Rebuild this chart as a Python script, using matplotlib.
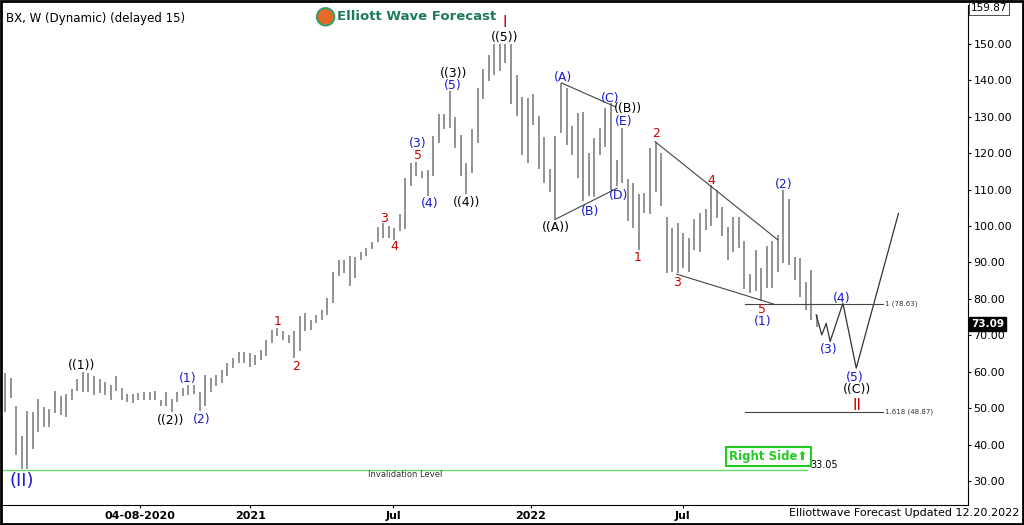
import matplotlib
matplotlib.use("Agg")
import matplotlib.pyplot as plt
from matplotlib.patches import FancyBboxPatch, Ellipse

highs = [59.6,58.2,50.6,42.4,49.2,49.0,52.4,50.2,49.7,54.8,53.3,53.9,55.2,57.9,60.0,59.6,58.8,57.9,57.3,56.4,
         58.8,55.5,53.9,53.9,54.1,54.5,54.5,54.8,52.2,54.3,52.4,54.5,55.5,56.4,56.4,54.5,59.1,58.2,59.1,60.5,
         62.3,63.7,65.5,65.5,
         65.1,64.6,66.0,68.8,71.5,72.0,71.1,70.1,71.1,75.4,76.1,74.3,75.6,77.0,80.2,87.3,90.6,90.8,91.7,91.5,
         92.8,94.0,95.6,99.8,100.9,100.0,99.5,103.2,113.3,117.4,117.6,115.2,115.4,124.7,130.9,130.9,137.1,129.9,124.9,117.4,
         126.6,138.0,143.2,147.1,149.9,149.9,149.9,149.9,141.6,
         135.4,135.1,136.3,130.1,124.4,115.8,124.6,139.3,137.9,127.5,131.0,131.2,120.0,124.1,126.8,132.3,133.7,118.0,126.8,112.8,
         111.9,108.7,109.1,121.5,123.0,120.0,102.6,99.5,100.9,98.1,96.7,101.8,103.5,104.8,111.2,109.8,105.3,99.8,102.6,102.6,
         95.8,86.7,93.5,88.5,94.4,95.8,97.6,109.9,107.4,91.6,91.2,84.6,87.9,75.6]
lows = [49.0,52.7,37.1,33.2,33.2,38.9,43.5,44.7,44.9,48.6,48.1,47.6,52.2,54.8,54.3,54.4,53.6,54.1,53.6,52.1,
        54.8,52.2,51.8,51.5,52.1,52.2,52.1,52.1,50.6,50.6,49.0,51.8,53.3,53.6,53.9,49.3,50.6,54.5,56.1,57.0,
        58.7,60.9,62.3,62.5,
        61.4,61.8,63.3,64.2,67.9,69.7,68.8,67.9,63.8,65.6,71.1,71.5,73.4,74.3,75.6,78.8,86.2,87.2,83.5,85.7,
        90.8,91.7,93.6,95.6,96.8,96.8,96.3,98.6,99.1,111.0,113.8,113.1,108.3,113.8,122.9,126.6,127.0,121.5,113.8,108.7,
        114.5,122.7,135.0,139.8,141.6,142.5,144.8,133.4,130.2,
        119.5,117.2,127.8,115.8,111.8,109.4,101.8,125.6,122.3,119.5,113.2,106.8,108.3,108.1,119.5,121.8,110.0,110.9,111.9,101.3,
        99.5,93.5,103.6,103.2,109.4,105.5,87.1,87.5,87.1,88.5,87.5,93.5,93.0,98.9,100.0,102.2,97.2,90.8,93.0,93.9,
        82.6,81.6,82.1,79.4,83.0,83.0,87.5,89.9,89.3,85.2,80.5,77.0,74.2,72.3]

proj_x = [145.9, 146.9, 147.7, 148.4, 150.7, 153.1, 160.7]
proj_y = [75.6, 70.1, 73.3, 68.3, 78.8, 61.0, 103.5]

tick_pos = [24.3, 44.1, 69.8, 94.6, 121.9]
tick_lab = ["04-08-2020", "2021", "Jul", "2022", "Jul"]
yticks = [30, 40, 50, 60, 70, 80, 90, 100, 110, 120, 130, 140, 150]

labels = [("I",89.9,156.0,"#d00000",11),("((5))",89.9,151.9,"black",9),("((3))",80.6,142.0,"black",9),
          ("(5)",80.6,138.7,"#1a1ad0",9),("(3)",74.3,122.8,"#1a1ad0",9),("5",74.3,119.3,"#d00000",9),
          ("(4)",76.3,106.1,"#1a1ad0",9),("((4))",83.1,106.6,"black",9),("3",68.2,102.2,"#d00000",9),
          ("4",70.1,94.3,"#d00000",9),("1",49.1,73.9,"#d00000",9),("2",52.3,61.3,"#d00000",9),
          ("((1))",13.8,61.6,"black",9),("((2))",29.7,46.7,"black",9),("(1)",32.9,58.0,"#1a1ad0",9),
          ("(2)",35.3,47.0,"#1a1ad0",9),("(II)",3.1,30.0,"#1a1ad0",13),("(A)",100.4,140.7,"#1a1ad0",9),
          ("(C)",108.8,134.9,"#1a1ad0",9),("((B))",112.1,132.4,"black",9),("(E)",111.2,128.6,"#1a1ad0",9),
          ("(D)",110.4,108.3,"#1a1ad0",9),("(B)",105.2,104.1,"#1a1ad0",9),("((A))",99.1,99.5,"black",9),
          ("2",117.1,125.3,"#d00000",9),("1",113.8,91.5,"#d00000",9),("4",127.0,112.4,"#d00000",9),
          ("3",120.9,84.6,"#d00000",9),("5",136.2,77.2,"#d00000",9),("(1)",136.2,73.9,"#1a1ad0",9),
          ("(2)",140.1,111.5,"#1a1ad0",9),("(4)",150.5,80.0,"#1a1ad0",9),("(3)",148.2,66.2,"#1a1ad0",9),
          ("(5)",152.9,58.3,"#1a1ad0",9),("((C))",153.2,55.0,"black",9),("II",153.2,50.6,"#d00000",11)]

fig = plt.figure(figsize=(10.24, 5.25), dpi=100)
ax = fig.add_axes([0.0, 20/525, 968/1024, 500/525])
x = list(range(len(highs)))
ax.vlines(x, lows, highs, color="#8a8a8a", lw=1.3)
ax.plot(proj_x, proj_y, color="#333333", lw=0.9)

lc = "#444444"
ax.plot([98.9, 110.1], [101.8, 110.4], color=lc, lw=0.8)
ax.plot([100.1, 109.7], [139.3, 132.8], color=lc, lw=0.8)
ax.plot([116.9, 139.0], [123.2, 96.2], color=lc, lw=0.8)
ax.plot([120.8, 138.2], [86.8, 78.6], color=lc, lw=0.8)
ax.plot([133.1, 157.9], [78.63, 78.63], color=lc, lw=0.8)
ax.plot([133.1, 157.9], [48.87, 48.87], color=lc, lw=0.8)
ax.text(158.3, 78.63, "1 (78.63)", fontsize=5, va="center", color="#333333")
ax.text(158.3, 48.87, "1.618 (48.87)", fontsize=5, va="center", color="#333333")
ax.plot([-1, 144.2], [33.05, 33.05], color="#66dd66", lw=1.0)
ax.text(72, 31.7, "Invalidation Level", fontsize=6, ha="center", va="center", color="#333333")
ax.text(144.8, 34.3, "33.05", fontsize=7, va="center", color="black")
ax.text(137.3, 36.8, "Right Side\u2b06", fontsize=8.5, fontweight="bold", color="#22cc22", ha="center", va="center",
        bbox=dict(boxstyle="square,pad=0.25", fc="white", ec="#22cc22", lw=1.5))

for t, lx, ly, c, fs in labels:
    ax.text(lx, ly, t, color=c, fontsize=fs, ha="center", va="center")

ax.set_xlim(-0.9, 173.2)
ax.set_ylim(23.4, 160.7)
ax.yaxis.tick_right()
ax.set_yticks(yticks)
ax.set_yticklabels([f"{v:.2f}" for v in yticks], fontsize=8)
ax.set_xticks(tick_pos)
ax.set_xticklabels(tick_lab, fontsize=8, fontweight="bold")
ax.tick_params(length=2, pad=2)
for s in ["top", "left"]:
    ax.spines[s].set_visible(False)

fig.text(0.006, 0.965, "BX, W (Dynamic) (delayed 15)", fontsize=8.5, va="center")
fig.patches.append(Ellipse((0.318, 0.968), 0.017, 0.033, transform=fig.transFigure, fc="#e86a2a", ec="#3a9a6a", lw=1.5))
fig.text(0.329, 0.968, "Elliott Wave Forecast", fontsize=9.5, fontweight="bold", color="#1f7a5a", va="center")
fig.text(0.995, 0.022, "Elliottwave Forecast Updated 12.20.2022", fontsize=8, ha="right", va="center")
ax.text(1.003, 159.87, "159.87", transform=ax.get_yaxis_transform(), fontsize=7.5, va="center",
        bbox=dict(boxstyle="square,pad=0.15", fc="white", ec="#333333", lw=0.6))
ax.text(1.003, 73.09, "73.09", transform=ax.get_yaxis_transform(), fontsize=7.5, va="center", color="white",
        fontweight="bold", bbox=dict(boxstyle="square,pad=0.2", fc="black", ec="black"))
fig.patches.append(FancyBboxPatch((0.001, 0.002), 0.998, 0.996, boxstyle="square,pad=0", transform=fig.transFigure,
                                  fill=False, ec="black", lw=2))
fig.savefig("out.png", dpi=100)
